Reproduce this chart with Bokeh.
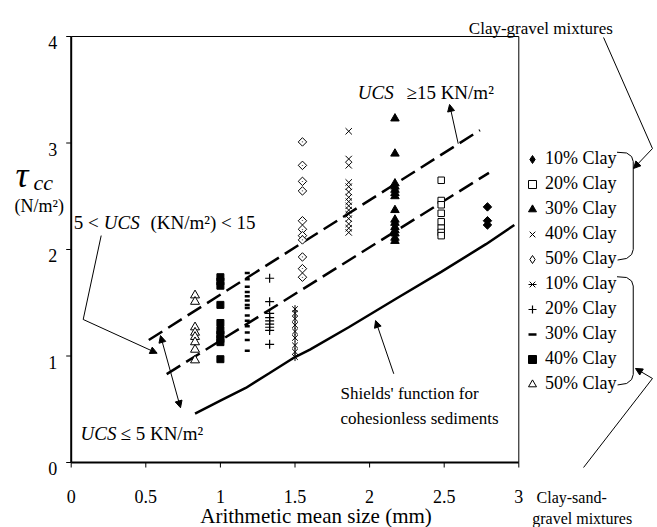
import numpy as np
from bokeh.plotting import figure
from bokeh.models import (Legend, LegendItem, Label, Arrow, NormalHead,
                          ColumnDataSource, Range1d)
from bokeh.core.properties import value
from bokeh.embed import file_html
from bokeh.resources import INLINE

# ---------------- data ----------------
x_ticks = [0, 0.5, 1, 1.5, 2, 2.5, 3]
x_tick_labels = ["0", "0.5", "1", "1.5", "2", "2.5", "3"]
y_ticks = [0, 1, 2, 3, 4]
y_tick_labels = ["0", "1", "2", "3", "4"]

legend_labels = ["10% Clay", "20% Clay", "30% Clay", "40% Clay", "50% Clay"]

# Clay-gravel mixtures (10%..50% clay): arithmetic mean size (mm), tau_cc (N/m2)
cg_sizes = [2.79, 2.48, 2.17, 1.86, 1.55]
cg10_tau = [2.40, 2.27, 2.23]
cg20_tau = [2.65, 2.46, 2.42, 2.34, 2.26, 2.20, 2.16, 2.13]
cg30_tau = [3.23, 2.90, 2.62, 2.59, 2.56, 2.53, 2.50, 2.37, 2.28, 2.25,
            2.21, 2.18, 2.15, 2.11, 2.08]
cg40_tau = [3.11, 2.85, 2.79, 2.63, 2.59, 2.54, 2.49, 2.45, 2.41, 2.37,
            2.33, 2.29, 2.24, 2.20, 2.16]
cg50_tau = [3.01, 2.79, 2.64, 2.55, 2.27, 2.19, 2.13, 2.09, 1.93, 1.82, 1.74]

# Clay-sand-gravel mixtures (10%..50% clay)
csg_sizes = [1.50, 1.33, 1.18, 1.00, 0.83]
csg10_tau = [1.44, 1.40, 1.35, 1.29, 1.23, 1.17, 1.10, 1.04, 0.99]
csg20_tau = [1.73, 1.51, 1.40, 1.36, 1.33, 1.30, 1.27, 1.24, 1.11]
csg30_tau = [1.78, 1.72, 1.65, 1.60, 1.56, 1.52, 1.48, 1.45, 1.38, 1.33,
             1.28, 1.22, 1.15, 1.05]
csg40_tau = [1.74, 1.70, 1.66, 1.48, 1.31, 1.24, 1.20, 1.16, 1.13, 0.97]
csg50_tau = [1.57, 1.51, 1.27, 1.22, 1.18, 1.13, 1.06, 0.96]

# boundary lines
ucs_high_x = [0.52, 2.74]
ucs_high_y = [1.15, 3.12]
ucs_low_x = [0.64, 2.80]
ucs_low_y = [0.83, 2.72]
shields_x = [0.83, 1.00, 1.17, 1.33, 1.50, 1.60, 1.86, 2.18, 2.48, 2.78, 2.97]
shields_y = [0.46, 0.58, 0.70, 0.84, 0.99, 1.06, 1.27, 1.54, 1.79, 2.05, 2.23]

SERIF = "Liberation Serif"

# ---------------- figure (frame spans the whole canvas) ----------------
W, H = 657, 527
PX_X, PX_Y = 149.2, 106.5          # pixels per data unit
LEFT, BOTTOM = 70.7, 65.0          # offset of the data origin from the left/bottom (px)
p = figure(width=W, height=H,
           x_range=Range1d(-LEFT / PX_X, (W - LEFT) / PX_X),
           y_range=Range1d(-BOTTOM / PX_Y, (H - BOTTOM) / PX_Y),
           output_backend="svg", toolbar_location=None,
           x_axis_location=None, y_axis_location=None,
           min_border=0, min_border_left=0, min_border_right=0,
           min_border_top=0, min_border_bottom=0)
p.grid.visible = False
p.outline_line_color = None
p.background_fill_color = "white"
p.border_fill_color = "white"

# ---- axes drawn through the data scales ----
xmin, xmax = x_ticks[0], x_ticks[-1]
ymin, ymax = y_ticks[0], y_ticks[-1]
tick_y = 5 / PX_Y
tick_x = 5 / PX_X
p.segment(x0=[xmin], y0=[ymin], x1=[xmax], y1=[ymin], line_color="black", line_width=2)
p.segment(x0=[xmin], y0=[ymin], x1=[xmin], y1=[ymax], line_color="black", line_width=2)
p.segment(x0=[xmin], y0=[ymax], x1=[xmax], y1=[ymax], line_color="black", line_width=1)
p.segment(x0=[xmax], y0=[ymin], x1=[xmax], y1=[ymax], line_color="black", line_width=1)
p.segment(x0=x_ticks, y0=[ymin] * len(x_ticks), x1=x_ticks,
          y1=[ymin - tick_y] * len(x_ticks), line_color="black", line_width=1)
p.segment(x0=[xmin] * len(y_ticks), y0=y_ticks, x1=[xmin - tick_x] * len(y_ticks),
          y1=y_ticks, line_color="black", line_width=1)
p.text(x=x_ticks, y=[ymin] * len(x_ticks), text=x_tick_labels, text_align="center",
       text_baseline="alphabetic", y_offset=34, text_font=value(SERIF),
       text_font_size="18px", text_color="black")
p.text(x=[xmin] * len(y_ticks), y=y_ticks, text=y_tick_labels, text_align="right",
       text_baseline="alphabetic", x_offset=-14, y_offset=6, text_font=value(SERIF),
       text_font_size="18px", text_color="black")

# lines
p.line(shields_x, shields_y, line_color="black", line_width=2.5)
p.line(ucs_high_x, ucs_high_y, line_color="black", line_width=2.5, line_dash="16 7")
p.line(ucs_low_x, ucs_low_y, line_color="black", line_width=2.5, line_dash="16 7")

def pts(size, tau):
    return [size] * len(tau), tau

# clay-gravel (diamonds drawn as rotated squares; a tiny diamond glyph on the
# same points supplies the unrotated legend symbol)
r_cg10 = p.scatter(*pts(cg_sizes[0], cg10_tau), marker="square", angle=np.pi / 4,
                   size=6, fill_color="black", line_color="black")
k_cg10 = p.scatter(*pts(cg_sizes[0], cg10_tau), marker="diamond", size=0.5,
                   fill_color="black", line_color="black")
r_cg20 = p.scatter(*pts(cg_sizes[1], cg20_tau), marker="square", size=6.5,
                   fill_color="white", line_color="black", line_width=1)
r_cg30 = p.scatter(*pts(cg_sizes[2], cg30_tau), marker="triangle", size=8.5,
                   fill_color="black", line_color="black")
r_cg40 = p.scatter(*pts(cg_sizes[3], cg40_tau), marker="x", size=9,
                   line_color="black", line_width=1)
r_cg50 = p.scatter(*pts(cg_sizes[4], cg50_tau), marker="square", angle=np.pi / 4,
                   size=6, fill_color="white", line_color="black", line_width=1)
k_cg50 = p.scatter(*pts(cg_sizes[4], cg50_tau), marker="diamond", size=0.5,
                   fill_color="white", line_color="black", line_width=1)
# clay-sand-gravel
r_csg10a = p.scatter(*pts(csg_sizes[0], csg10_tau), marker="x", size=8,
                     line_color="black", line_width=1)
r_csg10b = p.scatter(*pts(csg_sizes[0], csg10_tau), marker="dash", angle=np.pi / 2,
                     size=8, line_color="black", line_width=1)
r_csg20 = p.scatter(*pts(csg_sizes[1], csg20_tau), marker="cross", size=9,
                    line_color="black", line_width=1.2)
r_csg30 = p.scatter(*pts(csg_sizes[2], csg30_tau), marker="dash", size=5,
                    line_color="black", line_width=2.5)
r_csg40 = p.scatter(*pts(csg_sizes[3], csg40_tau), marker="square", size=7,
                    fill_color="black", line_color="black")
r_csg50 = p.scatter(*pts(csg_sizes[4], csg50_tau), marker="triangle", size=9,
                    fill_color="white", line_color="black", line_width=1)

renderer_groups = [[k_cg10], [r_cg20], [r_cg30], [r_cg40], [k_cg50],
                   [r_csg10a, r_csg10b], [r_csg20], [r_csg30], [r_csg40], [r_csg50]]
items = [LegendItem(label=legend_labels[i % 5], renderers=rs)
         for i, rs in enumerate(renderer_groups)]
legend = Legend(items=items, location=(522, 133), padding=8, margin=0,
                glyph_width=20, glyph_height=20, label_height=20, spacing=4,
                label_standoff=3, label_text_font=SERIF,
                label_text_font_size="18px", label_text_color="black",
                border_line_color=None, background_fill_color="white",
                background_fill_alpha=1.0)
p.add_layout(legend)

# ---------------- annotations ----------------
def add_text(x, y, text, size, style="normal", align="left"):
    p.add_layout(Label(x=x, y=y, text=text, text_font=SERIF,
                       text_font_size=size, text_font_style=style,
                       text_align=align, text_baseline="alphabetic",
                       text_color="black"))

def head():
    return NormalHead(size=7, fill_color="black", line_color="black", line_width=1)

def add_path(xs, ys, with_head=True, head_at_start=False):
    segs = dict(x0=xs[:-1], y0=ys[:-1], x1=xs[1:], y1=ys[1:])
    n = len(xs) - 1
    if with_head and n > 1:
        body = ColumnDataSource({k: v[:-1] for k, v in segs.items()})
        p.add_layout(Arrow(end=None, x_start="x0", y_start="y0", x_end="x1",
                           y_end="y1", source=body, line_color="black", line_width=1))
        last = ColumnDataSource({k: v[-1:] for k, v in segs.items()})
    else:
        last = ColumnDataSource(segs)
    p.add_layout(Arrow(end=head() if with_head else None,
                       start=head() if head_at_start else None,
                       x_start="x0", y_start="y0", x_end="x1", y_end="y1",
                       source=last, line_color="black", line_width=1))

# axis titles
add_text(1.641, -0.507, "Arithmetic mean size (mm)", "21px", align="center")
add_text(-0.3733, 2.695, "τ", "36px", style="italic")
add_text(-0.2527, 2.632, "cc", "22px", style="italic")
add_text(-0.380, 2.413, "(N/m²)", "18px")

# UCS annotations
add_text(1.921, 3.474, "UCS", "19px", style="italic")
add_text(2.247, 3.474, "≥15 KN/m²", "19px")
add_path([2.594, 2.536], [2.993, 3.362])

add_text(0.0174, 2.254, "5 <", "19px")
add_text(0.2185, 2.254, "UCS", "19px", style="italic")
add_text(0.5315, 2.254, "(KN/m²) < 15", "19px")
add_path([0.201, 0.0804, 0.576], [2.131, 1.343, 1.026])

add_text(0.0623, 0.275, "UCS", "19px", style="italic")
add_text(0.3304, 0.275, "≤ 5 KN/m²", "19px")
add_path([0.5985, 0.7326], [1.192, 0.514], with_head=True, head_at_start=True)

add_text(1.805, 0.648, "Shields' function for", "17px")
add_text(1.805, 0.413, "cohesionless sediments", "17px")
add_path([2.162, 2.040], [0.833, 1.333])

# group labels, pointers and braces
add_text(2.665, 4.072, "Clay-gravel mixtures", "17px")
add_path([3.568, 3.896, 3.769], [3.991, 2.948, 2.761])
add_text(3.119, -0.329, "Clay-sand-", "16px")
add_text(3.090, -0.526, "gravel mixtures", "16px")
add_path([3.434, 3.896, 3.782], [-0.047, 0.789, 0.883])

add_path([3.642, 3.723, 3.756, 3.767, 3.767, 3.756, 3.723, 3.662],
         [2.915, 2.906, 2.873, 2.826, 2.000, 1.953, 1.916, 1.901], with_head=False)
add_path([3.642, 3.723, 3.756, 3.767, 3.767, 3.756, 3.723, 3.662],
         [1.746, 1.737, 1.704, 1.657, 0.826, 0.779, 0.742, 0.728], with_head=False)

open("out.html", "w").write(file_html(p, INLINE))
